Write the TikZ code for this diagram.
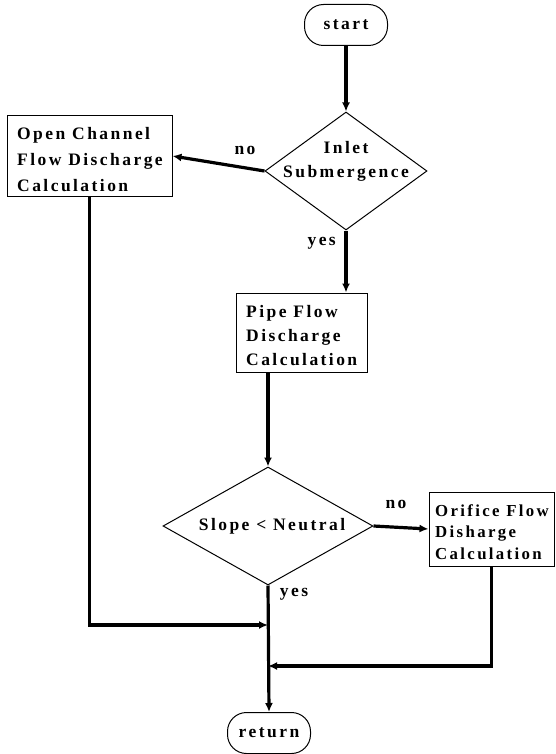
\documentclass[tikz,border=0pt]{standalone}
\usepackage{fontspec}
\setmainfont{Liberation Serif}[LetterSpace=14]
\usetikzlibrary{shapes.geometric,arrows.meta}
\tikzset{
  flow/.style={line width=3.2pt,-{Latex[length=9pt,width=8pt]}},
  box/.style={draw,line width=1pt,rectangle,inner sep=0pt},
  term/.style={draw,line width=1pt,rectangle,rounded corners=19pt,inner sep=0pt,
    minimum width=83pt,minimum height=41pt,font=\fontsize{17.5}{20}\selectfont\bfseries},
  decision/.style={draw,line width=1pt,diamond,inner sep=0pt},
  txt/.style={font=\fontsize{17.5}{24}\selectfont\bfseries,inner sep=0pt},
  lbl/.style={font=\fontsize{17.5}{20}\selectfont\bfseries,inner sep=0pt}
}
\begin{document}
\begin{tikzpicture}[x=1pt,y=-1pt]
\useasboundingbox (0,0) rectangle (556,754);
% terminals
\node[term] (start) at (346,25) {start};
\node[term] (ret) at (269,733) {return};
% decisions
\node[decision,minimum width=162pt,minimum height=118pt] (d1) at (346,171) {};
\node[txt,align=center] (t1) at (346,161) {Inlet\\Submergence};
\node[decision,minimum width=210pt,minimum height=118pt] (d2) at (268,526) {};
\node[txt] (t2) at (272,526) {Slope < Neutral};
% process boxes
\node[box,minimum width=165pt,minimum height=80pt] (b1) at (89.5,156) {};
\node[txt,align=left,anchor=north west,font=\fontsize{17.5}{26}\selectfont\bfseries] (tb1) at (17,127) {Open Channel\\Flow Discharge\\Calculation};
\node[box,minimum width=131pt,minimum height=79pt] (b2) at (301.5,332.5) {};
\node[txt,align=left,anchor=north west] (tb2) at (246,305) {Pipe Flow\\Discharge\\Calculation};
\node[box,minimum width=125pt,minimum height=74pt] (b3) at (491.5,529) {};
\node[txt,align=left,anchor=north west,font=\fontsize{16.8}{21.5}\selectfont\bfseries] (tb3) at (435,504) {Orifice Flow\\Disharge\\Calculation};
% junction points on the trunk
\coordinate (j1) at (268,625);
\coordinate (j2) at (268,666);
% connectors
\draw[flow] (start.south) -- (d1.north);
\draw[flow] (d1.west) -- (b1.east);
\draw[flow] (d1.south) -- (d1.south |- b2.north);
\draw[flow] (b2.south -| d2.north) -- (d2.north);
\draw[flow] (d2.east) -- (b3.west);
\draw[flow] (d2.south) -- (ret.north);
\draw[flow] (b1.south) |- (j1);
\draw[flow] (b3.south) |- (j2);
% branch labels
\node[lbl] (n1) at (245,150) {no};
\node[lbl,anchor=east] (y1) at (336,243) {yes};
\node[lbl] (n2) at (396,504) {no};
\node[lbl] (y2) at (294,594) {yes};
\end{tikzpicture}
\end{document}
